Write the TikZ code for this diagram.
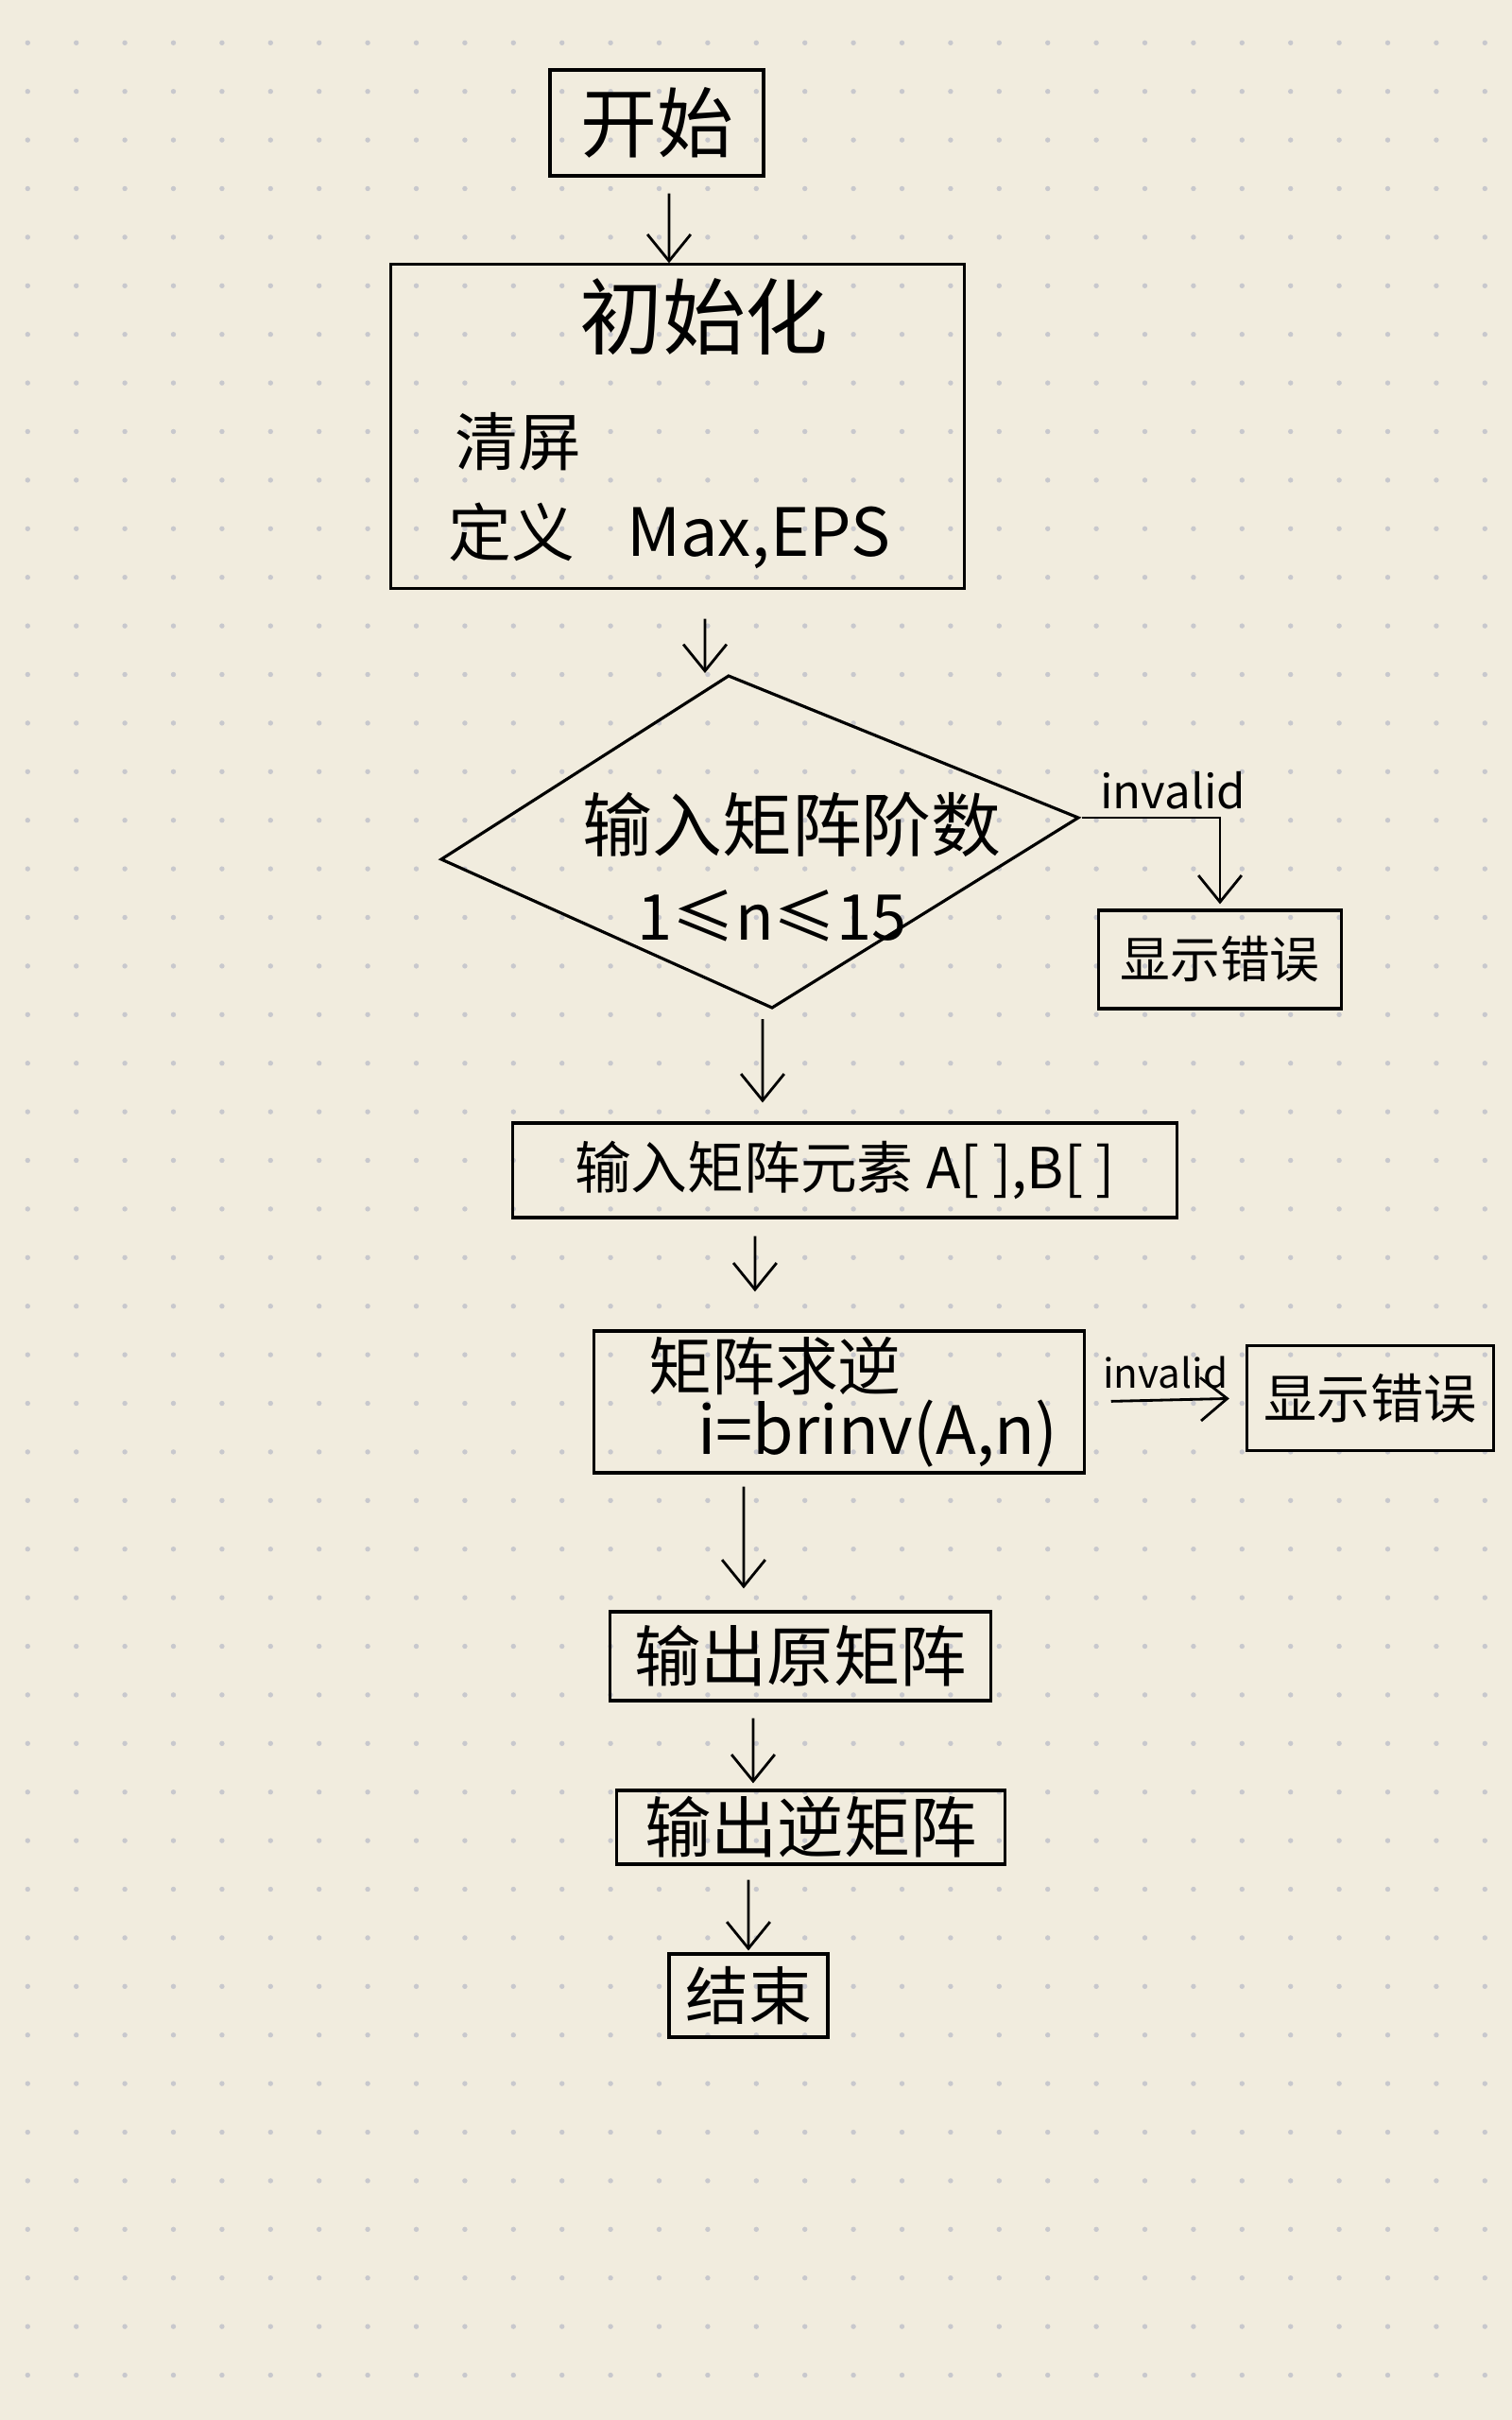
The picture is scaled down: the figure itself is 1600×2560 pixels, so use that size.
\documentclass[tikz,border=0pt]{standalone}
\usepackage{fontspec}
\setmainfont{Noto Sans CJK SC}
\usepackage{xcolor}
\usepackage{tikz}
\usetikzlibrary{arrows.meta}
\definecolor{paper}{RGB}{241,236,222}
\definecolor{dotgray}{RGB}{200,200,205}
\newcommand{\fs}[1]{\fontsize{#1}{#1}\selectfont}

\begin{document}
\begin{tikzpicture}[x=0.01cm,y=-0.01cm,>={Straight Barb[length=8pt,width=13pt]},line width=0.9pt,
   box/.style={draw,inner sep=0pt,align=center},
   lbl/.style={inner sep=0pt,align=left},
   arr/.style={->,line width=0.8pt}]
\fill[paper] (0,0) rectangle (1600,2560);
\useasboundingbox (0,0) rectangle (1600,2560);
\foreach \i in {0,...,30}
  \foreach \j in {0,...,48}
    \fill[dotgray] (29.3+51.4*\i,45.3+51.4*\j) circle (0.027cm);
\node[box,minimum width=2.26cm,minimum height=1.12cm,font=\fs{23}] (start) at (695,130) {开始};
\node[box,minimum width=6.06cm,minimum height=3.42cm] (init) at (717,451) {};
\node[lbl,font=\fs{25}] (inittitle) at (745,335) {初始化};
\node[lbl,anchor=west,font=\fs{19}] (cls) at (480,467) {清屏};
\node[lbl,anchor=west,font=\fs{19}] (def) at (473,567) {定义\hspace{0.55cm}{\fs{20}Max,EPS}};
\coordinate (dl) at (467,909);
\coordinate (dt) at (771,715);
\coordinate (dr) at (1141,865);
\coordinate (db) at (817,1066);
\draw (dl) -- (dt) -- (dr) -- (db) -- cycle;
\node[lbl,font=\fs{21}] (order) at (838,872) {输入矩阵阶数};
\node[lbl,font=\fs{19}] (range) at (817,969) {1≤n≤15};
\node[box,minimum width=2.57cm,minimum height=1.04cm,font=\fs{15}] (err1) at (1291,1015) {显示错误};
\node[box,minimum width=7.02cm,minimum height=1.00cm,font=\fs{17}] (input) at (894,1238) {输入矩阵元素 A[ ],B[ ]};
\node[box,minimum width=5.18cm,minimum height=1.50cm] (inv) at (888,1483) {};
\node[lbl,font=\fs{19}] (invtitle) at (820,1445) {矩阵求逆};
\node[lbl,font=\fs{20}] (call) at (929,1517) {i=brinv(A,n)};
\node[box,minimum width=2.61cm,minimum height=1.11cm,font=\fs{16}] (err2) at (1450,1479) {显示错误};
\node[box,minimum width=4.02cm,minimum height=0.94cm,font=\fs{20}] (out1) at (847,1752) {输出原矩阵};
\node[box,minimum width=4.10cm,minimum height=0.78cm,font=\fs{20}] (out2) at (858,1933) {输出逆矩阵};
\node[box,minimum width=1.68cm,minimum height=0.88cm,font=\fs{19}] (stop) at (792,2111) {结束};
\draw[arr,shorten <=0.17cm] ([xshift=0.13cm]start.south) -- ([xshift=-0.09cm]init.north);
\draw[arr,shorten <=0.31cm,shorten >=0.03cm] ([xshift=0.29cm]init.south) -- ([xshift=-0.25cm]dt);
\draw[arr,shorten <=0.12cm,shorten >=0.2cm] ([xshift=-0.1cm]db) -- ([xshift=-0.87cm]input.north);
\draw[arr,shorten <=0.18cm,shorten >=0.4cm] ([xshift=-0.95cm]input.south) -- ([xshift=-0.89cm]inv.north);
\draw[arr,shorten <=0.13cm,shorten >=0.23cm] ([xshift=-1.01cm]inv.south) -- ([xshift=-0.6cm]out1.north);
\draw[arr,shorten <=0.17cm,shorten >=0.06cm] ([xshift=-0.5cm]out1.south) -- ([xshift=-0.61cm]out2.north);
\draw[arr,shorten <=0.15cm,shorten >=0.02cm] ([xshift=-0.66cm]out2.south) -- (stop.north);
\draw[arr,shorten >=0.05cm] ([xshift=0.04cm]dr) -| node[above,pos=0.33,inner sep=2pt,font=\fs{14}] (badorder) {invalid} (err1.north);
\draw[arr,shorten <=0.27cm,shorten >=0.17cm] (inv.east) -- node[above,inner sep=3pt,font=\fs{12}] (badmatrix) {invalid} (err2.west);
\end{tikzpicture}
\end{document}
